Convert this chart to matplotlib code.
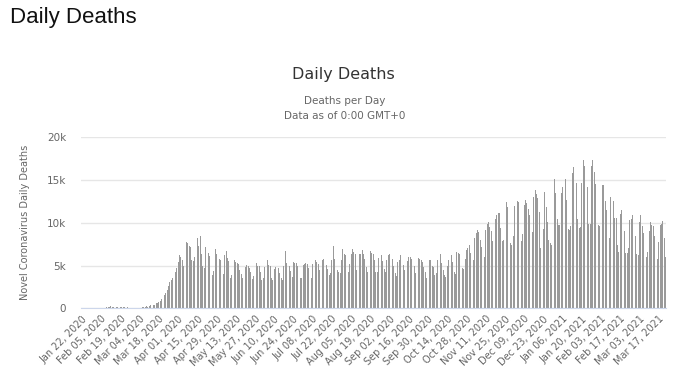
import matplotlib
matplotlib.use("Agg")
import matplotlib.pyplot as plt
import numpy as np
import pandas as pd

# daily deaths, one row per week (Wed..Tue), starting Jan 22, 2020
deaths = [
    0, 8, 16, 15, 24, 26, 26,
    38, 43, 46, 45, 57, 64, 66,
    73, 73, 86, 89, 97, 108, 97,
    254, 121, 143, 143, 106, 98, 139,
    115, 125, 125, 99, 97, 150, 79,
    63, 62, 57, 68, 64, 73, 87,
    84, 103, 105, 104, 103, 222, 205,
    272, 346, 444, 368, 427, 620, 660,
    700, 800, 1100, 1400, 1600, 1800, 2100,
    2600, 3100, 3300, 3600, 3800, 4300, 4700,
    5400, 6200, 6000, 5600, 4900, 5200, 7800,
    7600, 7300, 7200, 5600, 5500, 6000, 6700,
    8200, 7300, 8500, 6400, 4900, 4700, 7200,
    6700, 6500, 6100, 5000, 3900, 4400, 6900,
    6400, 6100, 5800, 5700, 3700, 4000, 6200,
    6700, 5900, 5500, 3500, 3900, 5600, 5700,
    5400, 5300, 5200, 4500, 4000, 3600, 4200,
    4800, 5100, 5000, 4700, 4300, 3400, 3800,
    5100, 5300, 5000, 4900, 4300, 3300, 3500,
    4800, 5500, 5700, 5100, 4900, 3600, 3300,
    4600, 4800, 5200, 4700, 4100, 3600, 3300,
    5000, 6700, 5300, 5200, 4900, 4400, 3700,
    5400, 5300, 5300, 5000, 4300, 3600, 3600,
    5100, 5200, 5300, 5200, 4700, 4000, 3600,
    5200, 5600, 5600, 5400, 5200, 4500, 3800,
    5700, 5800, 5600, 5100, 4600, 3900, 4100,
    5700, 7300, 5800, 5400, 4500, 4300, 4100,
    5700, 6900, 6400, 6200, 5700, 4200, 5200,
    6400, 6900, 6600, 6400, 4500, 3900, 6400,
    6400, 6800, 6400, 5800, 4800, 4300, 6200,
    6700, 6500, 6400, 5700, 4300, 4200, 5900,
    6400, 6200, 5500, 4600, 4300, 5700, 6200,
    6400, 6100, 5800, 4900, 4100, 3800, 5400,
    5700, 6200, 5800, 5100, 4500, 3900, 5500,
    6000, 6000, 5800, 5300, 4900, 4100, 3800,
    5900, 5800, 5700, 5400, 4800, 4300, 3500,
    5700, 5700, 5600, 5000, 4800, 3900, 4100,
    5700, 6100, 6400, 5300, 4500, 3900, 3700,
    5000, 5700, 6000, 6200, 5400, 4300, 4000,
    6600, 6500, 6400, 5800, 4700, 4600, 5800,
    6800, 7100, 7400, 6500, 5600, 5600, 8200,
    8800, 9200, 8900, 8000, 7200, 6500, 6000,
    9200, 9900, 10100, 9500, 9000, 7900, 7000,
    10500, 10900, 11200, 11100, 9400, 7900, 8000,
    11900, 12400, 11900, 10800, 7600, 7400, 8400,
    12000, 12700, 12600, 12400, 10500, 7900, 8700,
    12100, 12700, 12300, 11600, 10900, 6900, 8900,
    13000, 13800, 13400, 12900, 11300, 7100, 7000,
    9300, 13600, 11800, 10100, 8000, 7600, 7400,
    14200, 15100, 13500, 10500, 9700, 9700, 13500,
    14200, 14800, 15100, 12700, 9300, 9200, 9600,
    15800, 16500, 15600, 14700, 10500, 9400, 9500,
    14700, 17400, 16600, 16000, 14200, 9900, 9900,
    16600, 17300, 16000, 14500, 13000, 9800, 9600,
    14800, 14400, 14400, 12500, 11500, 8400, 8200,
    13000, 14000, 12500, 10600, 10600, 7400, 6600,
    11000, 11500, 11200, 9000, 6500, 6500, 7000,
    10300, 10500, 10900, 9800, 8400, 6400, 6200,
    10100, 10900, 9600, 8800, 8000, 6000, 6600,
    9000, 10100, 9800, 9600, 8400, 6000, 5800,
    7800, 9700, 9900, 10200, 8200, 6000,
]
dates = pd.date_range("2020-01-22", periods=len(deaths), freq="D")
y_ticks = [0, 5000, 10000, 15000, 20000]
y_tick_labels = ["0", "5k", "10k", "15k", "20k"]

fig = plt.figure(figsize=(6.9, 3.74), dpi=100)
ax = fig.add_axes([81.3 / 690, 1 - 308.3 / 374, 585 / 690, 171 / 374])

x = np.arange(len(deaths))
ax.bar(x, deaths, width=0.62, color="#9a9a9a", edgecolor="none", zorder=2)

ax.set_xlim(-0.5, len(deaths) - 0.5)
ax.set_ylim(0, 20000)
ax.set_yticks(y_ticks, y_tick_labels)
tick_pos = x[::14]
ax.set_xticks(tick_pos, [dates[i].strftime("%b %d, %Y") for i in tick_pos])
for label in ax.get_xticklabels():
    label.set_rotation(45)
    label.set_ha("right")
    label.set_va("top")
    label.set_rotation_mode("anchor")

ax.tick_params(axis="both", length=0, colors="#666666", labelsize=7)
ax.tick_params(axis="y", pad=11, labelsize=7.5)
ax.tick_params(axis="x", pad=4)
ax.grid(axis="y", color="#e6e6e6", linewidth=1, zorder=0)
for side in ("top", "right", "left"):
    ax.spines[side].set_visible(False)
ax.spines["bottom"].set_color("#ccd6eb")
ax.spines["bottom"].set_zorder(3)

ax.set_ylabel("Novel Coronavirus Daily Deaths", color="#666666", fontsize=7)
ax.yaxis.set_label_coords(-0.088, 0.5)

fig.text(10 / 690, 1 - 18 / 374, "Daily Deaths", fontsize=16,
         family="Liberation Sans", color="#111111", va="center", ha="left")
fig.text(343 / 690, 1 - 74 / 374, "Daily Deaths", fontsize=11.5,
         color="#333333", va="center", ha="center")
fig.text(345 / 690, 1 - 101 / 374, "Deaths per Day", fontsize=7.5,
         color="#666666", va="center", ha="center")
fig.text(345 / 690, 1 - 116 / 374, "Data as of 0:00 GMT+0", fontsize=7.5,
         color="#666666", va="center", ha="center")

fig.savefig("out.png", dpi=100)
